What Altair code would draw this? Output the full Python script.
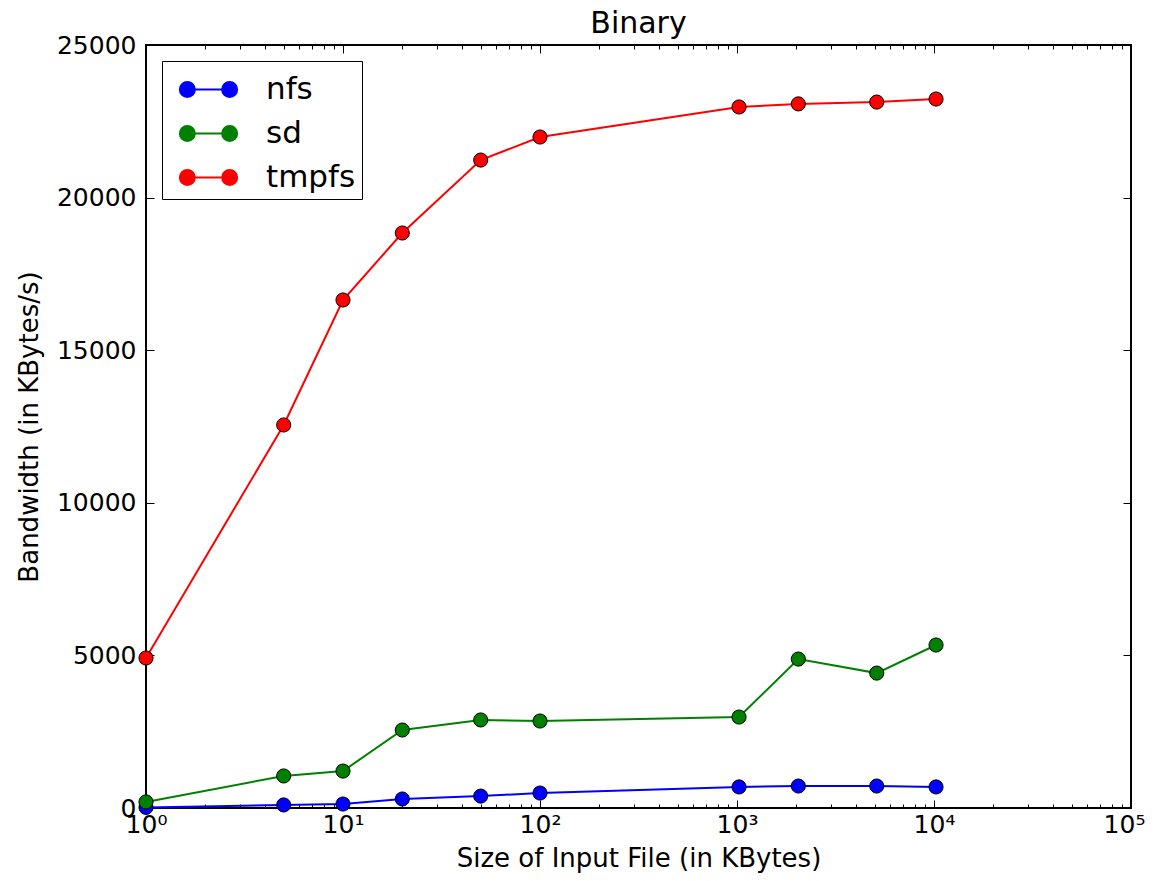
import altair as alt
import pandas as pd

sizes = [1, 5, 10, 20, 50, 100, 1024, 2048, 5120, 10240]
nfs = [20, 100, 130, 295, 390, 490, 690, 720, 720, 690]
sd = [200, 1050, 1210, 2555, 2885, 2850, 2980, 4880, 4420, 5340]
tmpfs = [4915, 12550, 16645, 18840, 21230, 21985, 22970, 23070, 23130, 23230]
series = ["nfs", "sd", "tmpfs"]
colors = ["#0000ff", "#008000", "#ff0000"]

x_major = [1, 10, 100, 1000, 10000, 100000]
x_minor = [k * 10 ** e for e in range(5) for k in range(2, 10)]
y_major = [0, 5000, 10000, 15000, 20000, 25000]

rows = []
for name, vals in zip(series, [nfs, sd, tmpfs]):
    for s, v in zip(sizes, vals):
        rows.append({"size": s, "bw": v, "fs": name})
df = pd.DataFrame(rows)

FONT = "DejaVu Sans"
xscale = alt.Scale(type="log", domain=[1, 100000], nice=False)
yscale = alt.Scale(domain=[0, 25000], nice=False, zero=False)

sup = "['\u2070','\u00b9','\u00b2','\u00b3','\u2074','\u2075'][round(log(datum.value)/LN10)]"

color = alt.Color(
    "fs:N",
    scale=alt.Scale(domain=series, range=colors),
    legend=alt.Legend(
        title=None,
        orient="none",
        legendX=16,
        legendY=16,
        symbolType="M -1.355 0 A 0.355 0.355 0 1 1 -0.645 0 A 0.355 0.355 0 1 1 -1.355 0 Z M 0.645 0 A 0.355 0.355 0 1 1 1.355 0 A 0.355 0.355 0 1 1 0.645 0 Z M -0.645 0 L 0.645 0",
        symbolSize=1789,
        symbolStrokeWidth=2,
        symbolOffset=18,
        labelFontSize=31,
        labelFont=FONT,
        labelColor="black",
        labelOffset=35,
        labelExpr="datum.label + '\u2002'",
        padding=6,
        rowPadding=6,
        strokeColor="black",
        fillColor="white",
        cornerRadius=0,
    ),
)

base = alt.Chart(df)

def xaxis(orient, values, size, labels, title=None):
    kw = dict(
        orient=orient, values=values, tickSize=size, offset=-size, domain=False,
        grid=False, labels=labels, tickColor="black", tickWidth=1,
    )
    if labels:
        kw.update(labelExpr="'10' + " + sup, labelFontSize=25, labelFont=FONT,
                  labelColor="black", labelPadding=4, labelFlush=False,
                  labelOffset={"condition": {"test": "datum.value >= 100000", "value": -7},
                               "value": 0})
    if title:
        kw.update(title=title, titleFontSize=26, titleFont=FONT, titleFontWeight="normal",
                  titleColor="black", titlePadding=8)
    else:
        kw.update(title=None)
    return alt.Axis(**kw)

def yaxis(orient, labels, title=None):
    kw = dict(
        orient=orient, values=y_major, tickSize=8, offset=-8, domain=False,
        grid=False, labels=labels, tickColor="black", tickWidth=1,
    )
    if labels:
        kw.update(format="d", labelFontSize=25, labelFont=FONT, labelColor="black",
                  labelPadding=10)
    if title:
        kw.update(title=title, titleFontSize=26, titleFont=FONT, titleFontWeight="normal",
                  titleColor="black", titlePadding=14)
    else:
        kw.update(title=None)
    return alt.Axis(**kw)

lines = base.mark_line(strokeWidth=2, clip=False).encode(
    x=alt.X("size:Q", scale=xscale,
            axis=xaxis("bottom", x_major, 8, True, "Size of Input File (in KBytes)")),
    y=alt.Y("bw:Q", scale=yscale, axis=yaxis("left", True, "Bandwidth (in KBytes/s)")),
    color=color,
    detail="fs:N",
)

points = base.mark_point(filled=True, size=200, stroke="black", strokeWidth=1,
                         opacity=1, clip=False).encode(
    x=alt.X("size:Q", scale=xscale, axis=xaxis("bottom", x_minor, 4, False)),
    y=alt.Y("bw:Q", scale=yscale, axis=yaxis("right", False)),
    color=color,
)

top_major = base.mark_point(opacity=0).encode(
    x=alt.X("size:Q", scale=xscale, axis=xaxis("top", x_major, 8, False)),
    y=alt.Y("bw:Q", scale=yscale, axis=None),
)
top_minor = base.mark_point(opacity=0).encode(
    x=alt.X("size:Q", scale=xscale, axis=xaxis("top", x_minor, 4, False)),
    y=alt.Y("bw:Q", scale=yscale, axis=None),
)

chart = (
    alt.layer(lines, points, top_major, top_minor)
    .resolve_scale(x="shared", y="shared", color="shared")
    .resolve_axis(x="independent", y="independent")
    .properties(
        width=985,
        height=763,
        autosize=alt.AutoSizeParams(type="none"),
        padding={"left": 138, "top": 37, "right": 16, "bottom": 65},
        title=alt.Title("Binary", fontSize=30, font=FONT, fontWeight="normal",
                        color="black", offset=-6),
        background="white",
    )
    .configure_view(stroke="black", strokeWidth=2)
)

chart.save("out.html", embed_options={"renderer": "svg", "actions": False})
